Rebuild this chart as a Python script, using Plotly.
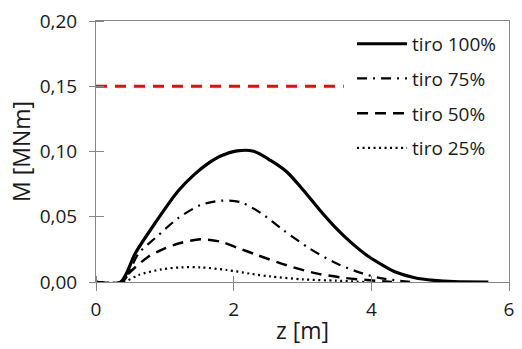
import plotly.graph_objects as go

# Data
z_100 = [0.0, 0.357, 0.571, 0.857, 1.19, 1.43, 1.62, 1.81, 2.05, 2.29, 2.53, 2.77, 3.01, 3.25, 3.49, 3.72, 3.96, 4.2, 4.34, 4.63, 4.91, 5.2, 5.7]
M_100 = [0.0, 0.0, 0.022, 0.045, 0.0695, 0.0825, 0.0905, 0.0965, 0.1005, 0.1002, 0.0934, 0.0845, 0.0705, 0.0552, 0.0411, 0.0296, 0.0195, 0.0118, 0.0079, 0.0033, 0.0013, 0.0003, 0.0]

z_75 = [0.0, 0.38, 0.62, 0.857, 1.19, 1.52, 1.81, 2.1, 2.39, 2.72, 3.1, 3.49, 3.87, 4.15, 4.6]
M_75 = [0.0, 0.0, 0.022, 0.0335, 0.0488, 0.059, 0.0623, 0.0612, 0.053, 0.0398, 0.0258, 0.0143, 0.0066, 0.0028, 0.0]

z_50 = [0.0, 0.38, 0.476, 0.76, 1.0, 1.24, 1.52, 1.81, 2.06, 2.34, 2.77, 3.2, 3.63, 4.06, 4.3]
M_50 = [0.0, 0.0, 0.0066, 0.0194, 0.0258, 0.0301, 0.0327, 0.0309, 0.0262, 0.0207, 0.0128, 0.0066, 0.003, 0.001, 0.0]

z_25 = [0.0, 0.4, 0.62, 0.95, 1.24, 1.52, 1.9, 2.24, 2.53, 3.01, 3.49, 3.9]
M_25 = [0.0, 0.0, 0.0054, 0.0097, 0.0112, 0.0112, 0.0092, 0.0064, 0.0043, 0.002, 0.001, 0.0]

limit_z = [0.0, 3.6]
limit_M = [0.15, 0.15]

x_ticks = [0, 2, 4, 6]
y_ticks = [0.0, 0.05, 0.10, 0.15, 0.20]

FONT = "Open Sans"
AXIS_COLOR = "#868686"
EPS_X = 1e-6
EPS_Y = 1e-8

fig = go.Figure()
fig.add_trace(go.Scatter(x=limit_z, y=limit_M, mode="lines", showlegend=False,
                         line=dict(color="#ff0000", width=3, dash="11px,8px")))
series = [
    ("tiro 100%", z_100, M_100, "solid", 3.2),
    ("tiro 75%", z_75, M_75, "10px,6px,2px,6px", 2.2),
    ("tiro 50%", z_50, M_50, "11px,7px", 2.5),
    ("tiro 25%", z_25, M_25, "2px,3.5px", 2.2),
]
for i, (name, zz, mm, dash, w) in enumerate(series):
    fig.add_trace(go.Scatter(x=zz, y=mm, mode="lines", name=name, legendgroup=str(i),
                             line=dict(color="black", width=w, dash=dash,
                                       shape="spline", smoothing=0.8)))

fig.update_layout(
    width=522, height=349,
    margin=dict(l=96, r=8, t=20, b=67),
    paper_bgcolor="white", plot_bgcolor="white",
    separators=",.",
    font=dict(family=FONT, size=19, color="#1a1a1a"),
    showlegend=True,
    legend=dict(x=0.62, y=0.985, xanchor="left", yanchor="top", bgcolor="white",
                font=dict(size=19), tracegroupgap=7, itemwidth=50),
    xaxis=dict(range=[0, 6], tickvals=x_ticks, tickformat="d", showgrid=False, zeroline=False,
               showline=True, linecolor=AXIS_COLOR, linewidth=1, mirror=True,
               ticks="outside", ticklen=8, tickcolor=AXIS_COLOR,
               minor=dict(tickvals=[v + EPS_X for v in x_ticks], ticks="inside", ticklen=6,
                          tickcolor=AXIS_COLOR, showgrid=False),
               title=dict(text="z [m]", standoff=2), ticklabelstandoff=2),
    yaxis=dict(range=[0, 0.20], tickvals=y_ticks, tickformat=".2f", showgrid=False, zeroline=False,
               showline=True, linecolor=AXIS_COLOR, linewidth=1, mirror=True,
               ticks="outside", ticklen=6, tickcolor=AXIS_COLOR,
               minor=dict(tickvals=[v + EPS_Y for v in y_ticks], ticks="inside", ticklen=8,
                          tickcolor=AXIS_COLOR, showgrid=False),
               title=dict(text="M [MNm]", standoff=2), ticklabelstandoff=8),
)

fig.write_html("out.html")
